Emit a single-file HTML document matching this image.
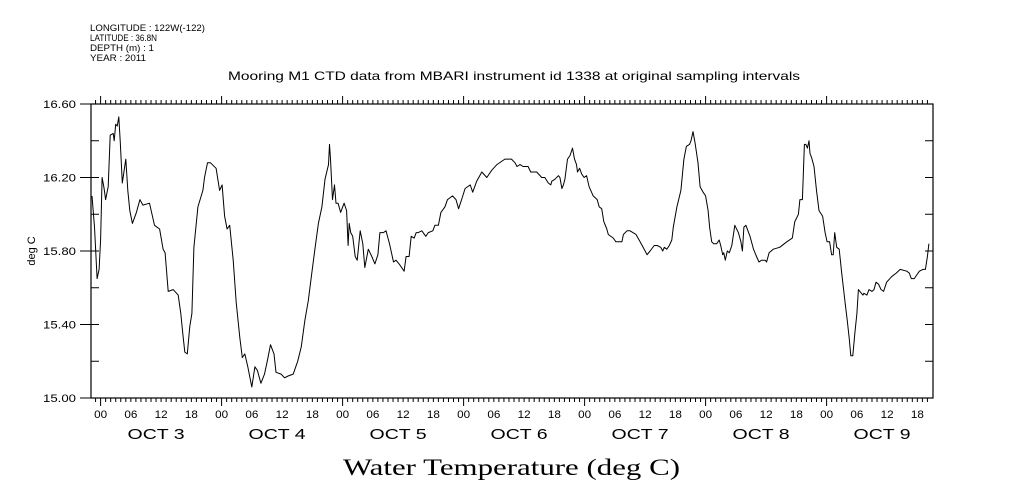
<!DOCTYPE html>
<html><head><meta charset="utf-8"><style>
html,body{margin:0;padding:0;background:#fff;}
svg{display:block;font-family:"Liberation Sans",sans-serif;}
</style></head><body>
<svg id="chart" width="1009" height="504" viewBox="0 0 1009 504">
<g font-size="9" fill="#000">
<text x="90" y="31" textLength="115" lengthAdjust="spacingAndGlyphs">LONGITUDE : 122W(-122)</text>
<text x="90" y="41" textLength="67" lengthAdjust="spacingAndGlyphs">LATITUDE : 36.8N</text>
<text x="90" y="51" textLength="64" lengthAdjust="spacingAndGlyphs">DEPTH (m) : 1</text>
<text x="90" y="61" textLength="56" lengthAdjust="spacingAndGlyphs">YEAR : 2011</text>
</g>
<text x="228" y="80" textLength="572" lengthAdjust="spacingAndGlyphs" font-size="12">Mooring M1 CTD data from MBARI instrument id 1338 at original sampling intervals</text>
<text transform="translate(35,251) rotate(-90)" text-anchor="middle" font-size="11">deg C</text>
<text x="343" y="475" textLength="337" lengthAdjust="spacingAndGlyphs" font-size="23" font-family="Liberation Serif, serif">Water Temperature (deg C)</text>
<rect x="91" y="104" width="842" height="294" fill="none" stroke="#000" stroke-width="1.2"/>
<g id="axes"></g>
<g id="series"></g>
</svg>
<script>
const hours=[-1.7,-1.2,-0.7,-0.3,0.0,0.3,0.7,1.0,1.5,1.9,2.5,2.7,3.0,3.3,3.6,3.9,4.3,5.0,5.4,5.8,6.3,7.1,7.8,8.4,9.7,10.7,11.7,12.4,12.8,13.4,14.4,15.4,15.9,16.3,16.7,17.2,17.7,18.1,18.5,19.3,20.3,20.6,21.2,21.8,22.9,23.6,24.1,24.6,25.1,25.6,26.3,26.9,27.6,28.1,28.6,29.2,30.0,30.6,31.1,31.8,32.5,33.2,33.7,34.4,34.8,35.8,36.5,37.2,38.2,39.1,39.8,40.5,41.2,41.9,42.5,43.2,43.9,44.5,45.2,45.4,45.6,46.0,46.4,46.7,47.1,47.6,48.3,48.8,49.1,49.3,49.6,50.0,50.5,50.9,51.5,52.0,52.4,53.1,53.8,54.4,55.0,55.4,56.1,56.6,57.3,58.1,58.6,59.2,60.2,60.6,61.2,61.6,62.2,62.6,63.0,63.7,64.5,65.0,65.9,66.3,67.0,67.5,68.3,68.8,69.8,70.5,71.0,71.6,72.3,73.3,73.8,74.6,75.6,76.6,77.6,78.6,80.2,81.5,82.2,82.6,83.2,83.8,84.8,85.3,86.5,87.5,88.1,88.8,89.3,89.5,90.1,90.8,91.1,91.5,91.8,92.1,92.6,93.1,93.6,94.0,94.4,94.6,95.0,95.4,95.9,96.4,96.9,97.7,98.5,98.9,99.4,99.8,100.4,100.7,101.7,102.2,103.4,103.7,104.4,105.0,106.2,107.0,107.6,108.4,109.0,109.8,110.4,111.1,111.5,111.8,112.3,112.8,113.3,113.6,114.3,115.1,115.7,116.2,116.8,117.1,117.5,117.9,118.5,118.9,119.5,120.0,120.5,120.8,121.2,121.6,122.2,122.7,123.0,123.4,123.6,123.9,124.3,124.7,125.2,125.8,126.5,127.0,127.3,127.6,128.0,128.8,129.5,130.1,130.6,131.1,131.8,132.1,132.6,133.4,134.7,136.1,137.2,137.7,138.4,138.7,139.2,139.6,139.9,140.2,140.5,140.7,141.0,141.5,142.0,142.5,143.2,143.7,144.1,144.6,145.0,145.3,145.6,146.0,146.5,147.0,147.7,148.1,148.5,148.8,149.2,149.6,150.0,150.3,150.6,151.2,151.4,152.0,152.4,153.0,153.4,153.8,154.3,154.8,155.3,155.9,156.9,157.8,158.6,159.9,160.4,160.8,161.4,161.9,162.4,163.1,163.6,164.0,164.3];
const temps=[16.10,15.93,15.65,15.70,15.86,16.20,16.14,16.08,16.15,16.43,16.44,16.40,16.49,16.48,16.53,16.39,16.17,16.30,16.13,16.02,15.95,16.01,16.08,16.05,16.06,15.94,15.92,15.81,15.79,15.58,15.59,15.56,15.46,15.35,15.25,15.24,15.39,15.46,15.82,16.04,16.13,16.20,16.28,16.28,16.25,16.13,16.16,15.99,15.92,15.94,15.75,15.52,15.33,15.22,15.24,15.17,15.06,15.17,15.15,15.08,15.13,15.22,15.29,15.24,15.14,15.13,15.11,15.12,15.13,15.20,15.28,15.42,15.53,15.68,15.81,15.95,16.04,16.19,16.27,16.38,16.30,16.08,16.16,16.06,16.06,16.01,16.06,16.02,15.83,15.95,15.90,15.88,15.77,15.75,15.91,15.84,15.71,15.81,15.77,15.73,15.78,15.90,15.90,15.91,15.84,15.74,15.75,15.73,15.69,15.77,15.77,15.88,15.87,15.90,15.90,15.91,15.88,15.90,15.91,15.94,15.94,16.01,16.04,16.08,16.10,16.08,16.03,16.08,16.14,16.16,16.12,16.18,16.23,16.20,16.24,16.27,16.30,16.30,16.28,16.26,16.27,16.26,16.26,16.23,16.23,16.20,16.20,16.17,16.16,16.18,16.19,16.21,16.20,16.14,16.16,16.19,16.30,16.32,16.36,16.30,16.27,16.23,16.25,16.22,16.20,16.21,16.15,16.10,16.08,16.04,16.03,15.96,15.92,15.89,15.87,15.85,15.85,15.89,15.91,15.91,15.89,15.85,15.82,15.78,15.80,15.83,15.83,15.82,15.80,15.82,15.81,15.83,15.86,15.93,16.04,16.13,16.30,16.37,16.38,16.40,16.45,16.39,16.28,16.15,16.12,16.10,16.02,15.93,15.85,15.84,15.84,15.86,15.83,15.78,15.79,15.75,15.80,15.79,15.83,15.94,15.90,15.85,15.80,15.93,15.94,15.88,15.81,15.77,15.74,15.75,15.75,15.74,15.79,15.81,15.82,15.85,15.87,15.96,16.00,16.08,16.08,16.38,16.38,16.36,16.40,16.33,16.31,16.26,16.13,16.02,15.99,15.90,15.85,15.85,15.78,15.78,15.90,15.82,15.81,15.68,15.51,15.42,15.32,15.23,15.23,15.35,15.46,15.59,15.58,15.56,15.57,15.56,15.59,15.58,15.59,15.63,15.62,15.59,15.58,15.63,15.66,15.68,15.70,15.69,15.68,15.65,15.65,15.67,15.69,15.70,15.70,15.77,15.84];
const yTickLabels=["15.00","15.40","15.80","16.20","16.60"];
const hourLabels=["00","06","12","18"];
const dayLabels=["OCT  3","OCT  4","OCT  5","OCT  6","OCT  7","OCT  8","OCT  9"];
const NS="http://www.w3.org/2000/svg";
function X(h){return 100.6+h*(121/24);}
function Y(t){return 104+(16.6-t)*183.75;}
function mk(tag,attrs,parent){const e=document.createElementNS(NS,tag);for(const k in attrs)e.setAttribute(k,attrs[k]);parent.appendChild(e);return e;}
const ax=document.getElementById('axes');
for(let h=-1;h<=164;h++){
  const x=X(h);const major=(h%24===0);const len=major?8:4;
  const tb=mk('line',{x1:x,y1:398,x2:x,y2:398+len,stroke:'#000','stroke-width':1},ax);
  
  
  const tt=mk('line',{x1:x,y1:104,x2:x,y2:104-len,stroke:'#000','stroke-width':1},ax);
  
  
}
for(let d=0;d<dayLabels.length;d++){
  for(let k=0;k<hourLabels.length;k++){
    const h=d*24+k*6;if(X(h)>933)continue;
    const t=mk('text',{x:X(h),y:418,'text-anchor':'middle','font-size':11,textLength:13,lengthAdjust:'spacingAndGlyphs'},ax);
    t.textContent=hourLabels[k];
    
    
  }
  const dl=mk('text',{x:X(d*24+11)-28.5,y:439,'font-size':15,'xml:space':'preserve',textLength:57,lengthAdjust:'spacingAndGlyphs'},ax);
  dl.textContent=dayLabels[d];
  
  
}
for(let i=0;i<=8;i++){
  const t=15.0+i*0.2;const y=Y(t);
  const l=mk('line',{x1:91,y1:y,x2:99,y2:y,stroke:'#000','stroke-width':1},ax);
  
  
  const r=mk('line',{x1:925,y1:y,x2:933,y2:y,stroke:'#000','stroke-width':1},ax);
  
  
}
yTickLabels.forEach(s=>{
  const y=Y(parseFloat(s));
  const l=mk('line',{x1:80,y1:y,x2:91,y2:y,stroke:'#000','stroke-width':1},ax);
  
  
  const t=mk('text',{x:43,y:y+4,'font-size':11,textLength:33,lengthAdjust:'spacingAndGlyphs'},ax);
  t.textContent=s;
  
  
});
const sg=document.getElementById('series');
let d='';
for(let i=0;i<hours.length;i++){d+=(i?'L':'M')+X(hours[i]).toFixed(1)+' '+Y(temps[i]).toFixed(1);}
const p=mk('path',{d:d,fill:'none',stroke:'#000','stroke-width':1,'stroke-linejoin':'round'},sg);


</script>
</body></html>
